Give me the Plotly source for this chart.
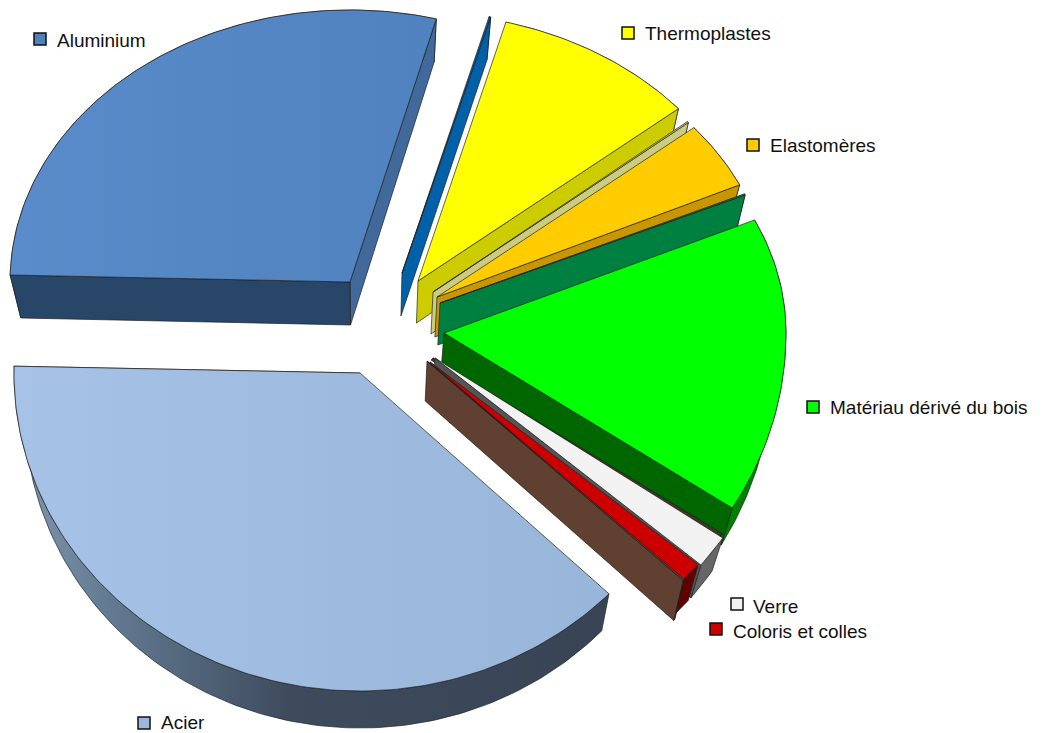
import math
import plotly.graph_objects as go

# ---- data ----
categories = ["", "Thermoplastes", "", "Elastomères", "", "Matériau dérivé du bois", "",
              "Verre", "Coloris et colles", "", "Acier", "Aluminium"]
values = [0.08, 9.72, 0.08, 4.08, 0.08, 15.92, 0.39, 1.67, 1.03, 0.08, 38.19, 28.67]

# ---- styles ----
top_colors = ["#0060a8", "#ffff00", "#cccc80", "#ffcc00", "#008040", "#00ff00", "#40352a",
              "#f2f2f2", "#cc0000", "#604030", "#a0bde2", "#5587c5"]
end_wall_colors = ["#0060a8", "#cccc00", "#cccc80", "#c89600", "#008040", "#006600", "#40352a",
                   "#555555", "#604030", "#604030", "#36404f", "#41699b"]
outer_wall_colors = ["#0060a8", "#cccc00", "#cccc80", "#c89600", "#008040", "#008000", "#40352a",
                     "#666666", "#600000", "#600000", "#3a4657", "#41699b"]

# ---- layout of the exploded pie (per slice: apex, radii, depth) ----
START_ANGLE = 14.7
apex_x = [402, 418, 433, 437, 440, 444, 433, 435, 430, 427, 360, 350]
apex_y = [273, 281, 292, 297, 303, 333, 358, 358, 362, 361, 373, 282]
radius_x = [343, 340, 332, 334, 336, 342, 343, 347, 350, 356, 346, 340]
radius_up = [265, 268, 265, 265, 258, 270, 265, 265, 265, 265, 265, 272]
radius_dn = [320, 320, 320, 320, 320, 325, 326, 322, 315, 316, 318, 320]
depth = [43, 42, 42, 40, 42, 30, 2, 33, 36, 40, 37, 43]
depth_slope = [0, 0, 0, 0, -0.04, 0.04, 0, 0, 0, 0, 0, 0]
label_pos = {"Aluminium": (40, 39, 55, 40), "Thermoplastes": (628, 33, 643, 33),
             "Elastomères": (753, 145, 768, 145), "Matériau dérivé du bois": (813, 407, 828, 407),
             "Verre": (737, 604, 751, 606), "Coloris et colles": (716, 629, 731, 631),
             "Acier": (144, 723, 159, 722)}
legend_colors = {"Aluminium": "#4f81bd", "Thermoplastes": "#ffff00", "Elastomères": "#ffcc00",
                 "Matériau dérivé du bois": "#00ff00", "Verre": "#f2f2f2",
                 "Coloris et colles": "#cc0000", "Acier": "#9bb8dc"}
K_X, C_X = 0.97, 11
EDGE = "rgba(30,30,30,0.85)"

total = sum(values)
angles = [START_ANGLE]
for v in values:
    angles.append(angles[-1] + v / total * 360)


def top_pt(i, deg):
    t = math.radians(deg)
    c = math.cos(t)
    r = radius_up[i] if c > 0 else radius_dn[i]
    return apex_x[i] + radius_x[i] * math.sin(t), apex_y[i] - r * c


def bottom(i, p):
    d = depth[i] + depth_slope[i] * (p[1] - apex_y[i])
    return K_X * p[0] + C_X, p[1] + d


def arc(i, a, b):
    n = max(2, int(abs(b - a)) + 2)
    return [top_pt(i, a + (b - a) * k / (n - 1)) for k in range(n)]


fig = go.Figure()


def poly(pts, color, name, grad=None, lw=0.8):
    xs = [p[0] for p in pts] + [pts[0][0]]
    ys = [p[1] for p in pts] + [pts[0][1]]
    kw = {"fillcolor": color}
    if grad:
        kw = {"fillgradient": dict(type="horizontal", start=grad[0], stop=grad[1],
                                   colorscale=grad[2])}
    fig.add_trace(go.Scatter(x=xs, y=ys, mode="lines", fill="toself", name=name,
                             line=dict(color=EDGE, width=lw), hoverinfo="skip",
                             showlegend=False, **kw))


ALU = categories.index("Aluminium")
ACI = categories.index("Acier")
for i in range(len(values)):
    a, b = angles[i], angles[i + 1]
    name = categories[i] or "slice"
    apex = (apex_x[i], apex_y[i])
    top_arc = arc(i, a, b)
    wall = top_arc + [bottom(i, p) for p in reversed(top_arc)]
    if i == ACI:
        poly(wall, outer_wall_colors[i], name,
             grad=(20, 620, [[0, "#7f95ad"], [0.15, "#627a92"], [0.45, "#3e4b5d"], [1, "#384454"]]))
    else:
        poly(wall, outer_wall_colors[i], name)
    e = top_pt(i, b)
    poly([apex, e, bottom(i, e), bottom(i, apex)], end_wall_colors[i], name)
    if i == ALU:
        s = top_pt(i, a)
        poly([apex, s, bottom(i, s), bottom(i, apex)], "#274668", name)
    face = [apex] + top_arc
    if i == ALU:
        poly(face, top_colors[i], name, grad=(10, 440, [[0, "#5a8bca"], [1, "#4f82bf"]]))
    elif i == ACI:
        poly(face, top_colors[i], name, grad=(14, 612, [[0, "#a6c2e6"], [1, "#98b6da"]]))
    else:
        poly(face, top_colors[i], name)

annotations = []
for lab, (mx, my, tx, ty) in label_pos.items():
    fig.add_trace(go.Scatter(x=[mx], y=[my], mode="markers", name=lab, showlegend=False,
                             hoverinfo="skip",
                             marker=dict(symbol="square", size=12, color=legend_colors[lab],
                                         line=dict(color="#111111", width=1.5))))
    annotations.append(dict(x=tx, y=ty, xref="x", yref="y", text=lab, showarrow=False,
                            xanchor="left", yanchor="middle",
                            font=dict(family="Liberation Sans", size=19, color="#111111")))

fig.update_layout(
    width=1043, height=733, margin=dict(l=0, r=0, t=0, b=0),
    paper_bgcolor="white", plot_bgcolor="white", annotations=annotations,
    xaxis=dict(range=[0, 1043], visible=False, fixedrange=True),
    yaxis=dict(range=[733, 0], visible=False, fixedrange=True),
)
fig.write_html("out.html", config={"displayModeBar": False},
               post_script="document.body.style.margin='0';document.documentElement.style.overflow='hidden';")
